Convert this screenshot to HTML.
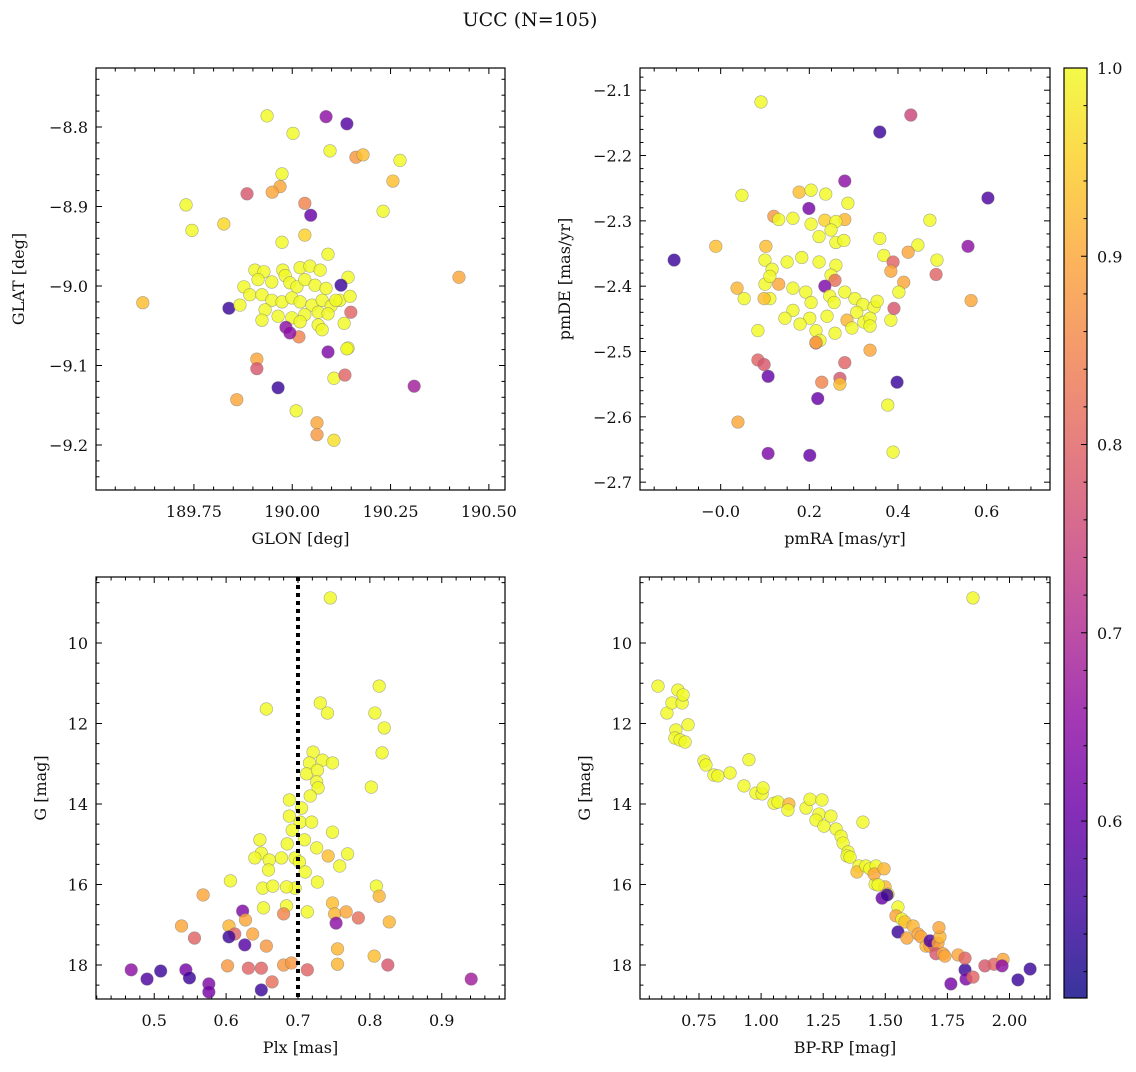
<!DOCTYPE html>
<html><head><meta charset="utf-8"><style>
html,body{margin:0;padding:0;background:#fff}
svg text{font-family:"DejaVu Serif","Liberation Serif",serif;fill:#111}
</style></head><body>
<svg id="fig" width="1136" height="1067" viewBox="0 0 1136 1067" xmlns="http://www.w3.org/2000/svg">
<defs>
<linearGradient id="plasma" x1="0" y1="1" x2="0" y2="0">
<stop offset="0" stop-color="#0d0887"/><stop offset="0.1" stop-color="#41049d"/><stop offset="0.2" stop-color="#6a00a8"/><stop offset="0.3" stop-color="#8f0da4"/><stop offset="0.4" stop-color="#b12a90"/><stop offset="0.5" stop-color="#cc4778"/><stop offset="0.6" stop-color="#e16462"/><stop offset="0.7" stop-color="#f2844b"/><stop offset="0.8" stop-color="#fca636"/><stop offset="0.9" stop-color="#fcce25"/><stop offset="1" stop-color="#f0f921"/>
</linearGradient>
</defs>
<text x="530" y="26" font-size="19" text-anchor="middle">UCC (N=105)</text>
</svg>
<script>
// Panel 1: GLON vs GLAT
const glon=[189.936,190.086,190.139,190.002,190.096,190.162,190.180,190.274,189.974,190.256,189.969,189.949,189.885,190.032,189.730,190.231,190.047,189.826,189.745,190.032,189.974,190.091,190.424,189.620,189.839,
189.905,189.928,189.976,190.020,190.045,190.071,190.142,189.913,189.948,189.982,189.994,190.012,190.032,190.058,190.086,189.877,189.892,189.923,189.948,189.974,189.999,190.020,190.050,190.076,190.099,190.121,190.147,189.931,189.964,189.999,190.032,190.066,190.091,190.111,189.867,189.923,190.066,190.132,190.076,190.020,190.142,
190.124,190.149,189.984,190.017,189.994,190.091,189.910,189.910,189.964,190.106,190.310,190.134,189.859,190.010,190.063,190.063,190.106,190.139];
const glat=[-8.786,-8.787,-8.796,-8.808,-8.830,-8.838,-8.835,-8.842,-8.859,-8.868,-8.875,-8.882,-8.884,-8.896,-8.898,-8.906,-8.911,-8.922,-8.930,-8.936,-8.945,-8.960,-8.989,-9.021,-9.028,
-8.980,-8.982,-8.980,-8.977,-8.975,-8.980,-8.989,-8.992,-8.995,-8.987,-8.996,-9.001,-8.992,-8.999,-9.003,-9.001,-9.011,-9.011,-9.018,-9.020,-9.015,-9.020,-9.024,-9.018,-9.025,-9.018,-9.013,-9.030,-9.038,-9.040,-9.036,-9.033,-9.035,-9.018,-9.024,-9.043,-9.049,-9.047,-9.055,-9.045,-9.078,
-8.999,-9.033,-9.052,-9.064,-9.059,-9.083,-9.092,-9.104,-9.128,-9.116,-9.126,-9.112,-9.143,-9.157,-9.172,-9.187,-9.194,-9.079];
const prob1=[1,0.65,0.58,1,1,0.88,0.93,1,1,0.93,0.9,0.9,0.78,0.85,1,1,0.6,0.96,1,0.95,1,1,0.9,0.93,0.55,
1,1,1,1,1,1,1,1,1,1,1,1,1,1,1,1,1,1,1,1,1,1,1,1,1,1,1,1,1,1,1,1,1,1,1,1,1,1,1,1,1,
0.55,0.8,0.65,0.85,0.65,0.63,0.9,0.78,0.55,1,0.68,0.8,0.9,1,0.9,0.88,0.97,1];

// Panel 2: pmRA vs pmDE
const pmra=[0.091,0.429,0.359,0.280,0.603,0.048,0.177,0.204,0.237,0.287,0.199,0.120,0.131,0.163,0.235,0.280,0.472,0.102,0.260,0.204,0.222,0.249,0.260,0.278,0.359,-0.011,-0.105,0.558,0.445,0.423,0.368,0.100,0.116,0.150,0.222,0.260,0.183,0.488,0.389,0.384,0.249,0.258,0.131,0.100,0.111,0.235,0.486,0.413,0.037,0.163,0.192,0.246,0.280,0.303,0.321,0.346,0.307,0.353,0.402,0.053,0.256,0.204,0.163,0.111,0.098,0.201,0.240,0.285,0.323,0.337,0.384,0.337,0.296,0.145,0.179,0.084,0.391,0.565,0.215,0.224,0.258,0.215,0.337,0.084,0.098,0.215,0.280,0.107,0.269,0.228,0.269,0.219,0.398,0.377,0.039,0.107,0.201,0.389];
const pmde=[-2.118,-2.138,-2.164,-2.239,-2.265,-2.261,-2.256,-2.253,-2.259,-2.273,-2.281,-2.293,-2.298,-2.296,-2.299,-2.298,-2.299,-2.339,-2.301,-2.305,-2.324,-2.314,-2.333,-2.330,-2.327,-2.339,-2.360,-2.339,-2.337,-2.348,-2.353,-2.360,-2.374,-2.363,-2.363,-2.368,-2.356,-2.360,-2.363,-2.377,-2.383,-2.391,-2.397,-2.397,-2.385,-2.400,-2.382,-2.394,-2.403,-2.403,-2.409,-2.415,-2.409,-2.419,-2.428,-2.432,-2.440,-2.423,-2.409,-2.419,-2.425,-2.425,-2.437,-2.419,-2.419,-2.449,-2.446,-2.452,-2.455,-2.449,-2.452,-2.461,-2.464,-2.449,-2.458,-2.468,-2.434,-2.422,-2.468,-2.483,-2.472,-2.487,-2.498,-2.513,-2.520,-2.486,-2.517,-2.538,-2.541,-2.547,-2.550,-2.572,-2.547,-2.582,-2.608,-2.656,-2.659,-2.654];
const prob2=[1,0.75,0.55,0.65,0.57,1,0.93,1,1,1,0.62,0.88,1,1,0.95,0.92,1,0.93,1,1,1,1,1,1,1,0.93,0.55,0.65,1,0.9,1,1,1,1,1,1,1,1,0.8,0.9,1,0.82,0.9,1,1,0.63,0.8,0.9,0.92,1,1,1,1,1,1,1,1,1,1,1,1,1,1,1,0.93,1,1,0.92,1,1,1,1,1,1,1,1,0.78,0.9,1,1,1,0.8,0.9,0.8,0.78,0.9,0.8,0.6,0.78,0.85,0.93,0.6,0.55,1,0.9,0.63,0.6,1];

// Panel 3: Plx vs G
const plx=[0.745,0.656,0.813,0.807,0.731,0.741,0.820,0.721,0.734,0.716,0.748,0.712,0.727,0.726,0.817,0.728,0.717,0.705,0.688,0.703,0.692,0.719,0.709,0.726,0.696,0.688,0.802,0.647,0.649,0.685,0.748,0.640,0.660,0.677,0.702,0.742,0.769,0.758,0.659,0.710,0.727,0.696,0.606,0.651,0.665,0.684,0.809,0.813,0.748,0.568,0.652,0.684,0.751,0.713,0.767,0.784,0.753,0.623,0.627,0.680,0.604,0.612,0.637,0.827,0.538,0.604,0.556,0.626,0.656,0.755,0.649,0.602,0.755,0.680,0.691,0.825,0.806,0.544,0.631,0.468,0.509,0.490,0.549,0.576,0.576,0.649,0.664,0.713,0.941];
const gmag=[8.88,11.64,11.07,11.74,11.49,11.74,12.11,12.71,12.91,12.98,12.98,13.25,13.16,13.45,12.73,13.60,13.80,14.10,14.30,14.45,14.65,14.45,14.89,15.09,15.34,13.90,13.58,14.89,15.22,14.99,14.70,15.34,15.39,15.34,15.44,15.29,15.24,15.54,15.64,15.69,15.94,16.09,15.91,16.09,16.04,16.06,16.04,16.29,16.46,16.26,16.58,16.53,16.73,16.68,16.68,16.83,16.96,16.66,16.88,16.73,17.03,17.23,17.23,16.93,17.03,17.30,17.33,17.50,17.53,17.60,18.08,18.02,17.98,18.00,17.95,18.00,17.78,18.12,18.08,18.12,18.15,18.35,18.32,18.47,18.67,18.62,18.42,18.12,18.35];
const prob3=[1,1,1,1,1,1,1,1,1,1,1,1,1,1,1,1,1,1,1,1,1,1,1,1,1,1,1,1,1,1,1,1,1,1,1,0.93,1,1,1,1,1,1,1,1,1,1,1,0.92,0.93,0.9,1,1,0.92,1,0.9,0.82,0.65,0.63,0.9,0.85,0.92,0.8,0.9,0.92,0.9,0.55,0.8,0.58,0.88,0.92,0.8,0.88,0.92,0.88,0.88,0.78,0.93,0.62,0.8,0.65,0.55,0.57,0.55,0.63,0.62,0.55,0.82,0.8,0.68];

// Panel 4: BP-RP vs G
const bprp=[1.853,0.585,0.621,0.641,0.665,0.682,0.686,0.657,0.653,0.674,0.694,0.706,0.770,0.778,0.810,0.826,0.875,0.931,0.951,0.979,1.004,1.008,1.052,1.068,1.112,1.108,1.181,1.197,1.245,1.233,1.221,1.253,1.281,1.302,1.322,1.330,1.350,1.410,1.346,1.358,1.394,1.386,1.422,1.438,1.463,1.459,1.455,1.495,1.499,1.511,1.471,1.487,1.507,1.551,1.543,1.567,1.579,1.551,1.612,1.587,1.632,1.644,1.664,1.680,1.696,1.680,1.712,1.704,1.732,1.720,1.740,1.793,1.716,1.821,1.764,1.825,1.821,1.853,1.901,1.938,1.974,1.970,2.034,2.083];
const gmag4=[8.88,11.07,11.74,11.49,11.17,11.49,11.29,12.16,12.36,12.41,12.46,12.03,12.93,13.03,13.28,13.30,13.23,13.55,12.90,13.73,13.75,13.60,13.98,13.95,14.00,14.15,14.10,13.88,13.90,14.25,14.40,14.55,14.30,14.62,14.80,14.97,15.19,14.45,15.29,15.32,15.54,15.69,15.54,15.61,15.54,15.99,15.74,15.61,16.06,16.24,16.01,16.34,16.26,16.56,16.78,16.86,16.93,17.18,17.03,17.33,17.23,17.30,17.53,17.53,17.50,17.40,17.46,17.72,17.72,17.30,17.78,17.75,17.07,18.12,18.47,18.35,17.83,18.30,18.02,17.98,17.86,18.02,18.37,18.10];
const prob4=[1,1,1,1,1,1,1,1,1,1,1,1,1,1,1,1,1,1,1,1,1,1,1,1,0.92,1,1,1,1,1,1,1,1,1,1,1,1,1,1,1,1,0.93,1,1,1,1,0.9,0.92,0.92,1,1,0.6,0.55,1,0.9,1,0.93,0.55,0.92,0.9,0.9,0.9,0.92,0.9,0.8,0.57,0.9,0.78,0.9,0.92,0.9,0.9,0.9,0.55,0.62,0.63,0.8,0.8,0.78,0.8,0.9,0.65,0.55,0.55];

const cbTicks=[0.6,0.7,0.8,0.9,1.0];
const CMIN=0.506, CMAX=1.0;
const NS="http://www.w3.org/2000/svg";
const svg=document.getElementById('fig');
const stops=[[13,8,135],[65,4,157],[106,0,168],[143,13,164],[177,42,144],[204,71,120],[225,100,98],[242,132,75],[252,166,54],[252,206,37],[240,249,33]];
function cmap(v){let t=(v-CMIN)/(CMAX-CMIN);t=Math.max(0,Math.min(1,t))*10;const i=Math.min(9,Math.floor(t)),f=t-i;const a=stops[i],b=stops[i+1];return 'rgb('+a.map((c,k)=>Math.round(c+(b[k]-c)*f)).join(',')+')';}
function mk(tag,attrs,parent){const e=document.createElementNS(NS,tag);for(const k in attrs)e.setAttribute(k,attrs[k]);(parent||svg).appendChild(e);return e;}
function fmt(v,d){let s=v.toFixed(d);return s.startsWith('-')?'\u2212'+s.slice(1):s;}

function panel(o){
  const g=mk('g',{});
  
  
  const sx=v=>o.L+(v-o.x0)/(o.x1-o.x0)*(o.R-o.L);
  const sy=v=>o.B-(v-o.y0)/(o.y1-o.y0)*(o.B-o.T);
  const ax=mk('g',{},g);
  
  
  const eps=1e-9;
  const xa=Math.min(o.x0,o.x1), xb=Math.max(o.x0,o.x1);
  const ya=Math.min(o.y0,o.y1), yb=Math.max(o.y0,o.y1);
  for(let v=Math.ceil(xa/o.xm-eps)*o.xm;v<=xb+eps;v+=o.xm){const x=sx(v);const maj=Math.abs(v/o.xM-Math.round(v/o.xM))<1e-6;const l=maj?6:3.5;
    mk('line',{x1:x,x2:x,y1:o.B,y2:o.B-l,stroke:'#000','stroke-width':1},ax);mk('line',{x1:x,x2:x,y1:o.T,y2:o.T+l,stroke:'#000','stroke-width':1},ax);
    if(maj){const t=mk('text',{x:x,y:o.B+27,'font-size':16,'text-anchor':'middle'},ax);t.textContent=fmt(v,o.xd);
      
      }}
  for(let v=Math.ceil(ya/o.ym-eps)*o.ym;v<=yb+eps;v+=o.ym){const y=sy(v);const maj=Math.abs(v/o.yM-Math.round(v/o.yM))<1e-6;const l=maj?6:3.5;
    mk('line',{x1:o.L,x2:o.L+l,y1:y,y2:y,stroke:'#000','stroke-width':1},ax);mk('line',{x1:o.R,x2:o.R-l,y1:y,y2:y,stroke:'#000','stroke-width':1},ax);
    if(maj){const t=mk('text',{x:o.L-8,y:y+6,'font-size':16,'text-anchor':'end'},ax);t.textContent=fmt(v,o.yd);
      
      }}
  const xl=mk('text',{x:(o.L+o.R)/2,y:o.B+54,'font-size':16,'text-anchor':'middle'},g);xl.textContent=o.xlab;
  
  
  const yl=mk('text',{x:o.ylx,y:(o.T+o.B)/2,'font-size':16,'text-anchor':'middle',transform:'rotate(-90 '+o.ylx+' '+(o.T+o.B)/2+')'},g);yl.textContent=o.ylab;
  
  
  const pts=mk('g',{},g);
  
  
  for(let i=0;i<o.xs.length;i++){const c=mk('circle',{cx:sx(o.xs[i]),cy:sy(o.ys[i]),r:6.3,fill:cmap(o.cs[i]),'fill-opacity':0.82,stroke:'#777','stroke-opacity':0.6,'stroke-width':0.6},pts);
    
    }
  if(o.vline!==undefined){const ln=mk('line',{x1:sx(o.vline),x2:sx(o.vline),y1:o.T,y2:o.B,stroke:'#000','stroke-width':4,'stroke-dasharray':'4 4'},g);
    
    }
  mk('rect',{x:o.L,y:o.T,width:o.R-o.L,height:o.B-o.T,fill:'none',stroke:'#000','stroke-width':1.2},g);
}
panel({name:'glon-glat-panel',L:96,R:505,T:68,B:490,x0:189.501,x1:190.541,y0:-9.2566,y1:-8.7258,xM:0.25,xm:0.05,yM:0.1,ym:0.02,xd:2,yd:1,xlab:'GLON [deg]',ylab:'GLAT [deg]',ylx:24,xs:glon,ys:glat,cs:prob1});
panel({name:'pm-panel',L:640,R:1050,T:68,B:490,x0:-0.182,x1:0.743,y0:-2.712,y1:-2.066,xM:0.2,xm:0.05,yM:0.1,ym:0.02,xd:1,yd:1,xlab:'pmRA [mas/yr]',ylab:'pmDE [mas/yr]',ylx:570,xs:pmra,ys:pmde,cs:prob2});
panel({name:'plx-g-panel',L:96,R:505,T:577,B:999,x0:0.419,x1:0.988,y0:18.845,y1:8.36,xM:0.1,xm:0.02,yM:2,ym:0.5,xd:1,yd:0,xlab:'Plx [mas]',ylab:'G [mag]',ylx:46,xs:plx,ys:gmag,cs:prob3,vline:0.7});
panel({name:'cmd-panel',L:640,R:1050,T:577,B:999,x0:0.5125,x1:2.163,y0:18.845,y1:8.36,xM:0.25,xm:0.05,yM:2,ym:0.5,xd:2,yd:0,xlab:'BP-RP [mag]',ylab:'G [mag]',ylx:590,xs:bprp,ys:gmag4,cs:prob4});

// colorbar
const cb=mk('g',{});


const CT=68,CB=998,CL=1064,CR=1087;
const cy=v=>CB-(v-CMIN)/(CMAX-CMIN)*(CB-CT);
mk('rect',{x:CL,y:CT,width:CR-CL,height:CB-CT,fill:'url(#plasma)','fill-opacity':0.82},cb);
mk('rect',{x:CL,y:CT,width:CR-CL,height:CB-CT,fill:'none',stroke:'#000','stroke-width':1.2},cb);
for(let v=0.52;v<=1.0001;v+=0.02){const y=cy(v);const maj=cbTicks.some(t=>Math.abs(t-v)<1e-6);mk('line',{x1:CR,x2:CR-(maj?6:3.5),y1:y,y2:y,stroke:'#000','stroke-width':1},cb);}
cbTicks.forEach(v=>{const t=mk('text',{x:CR+10,y:cy(v)+6,'font-size':16},cb);t.textContent=v.toFixed(1);
  
  });
</script>
</body></html>
